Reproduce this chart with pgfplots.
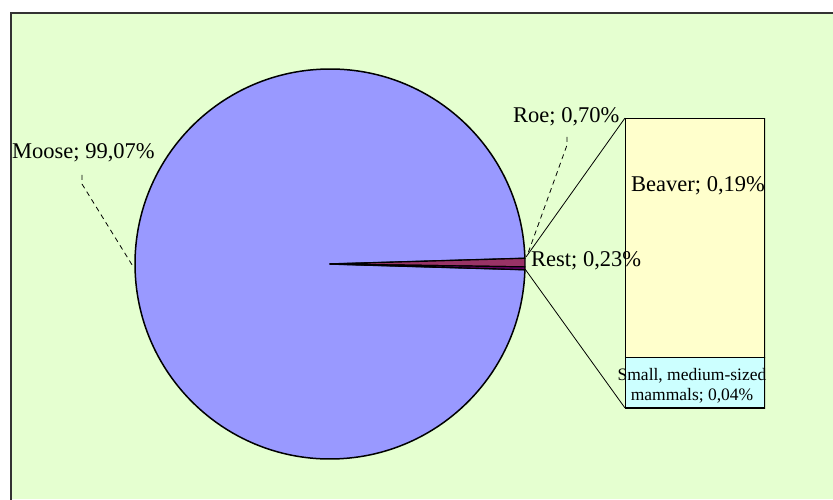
\documentclass[border=0pt]{standalone}
\usepackage{pgfplots}
\pgfplotsset{compat=1.18}
\usepackage{fontspec}
\setmainfont{Liberation Serif}
\definecolor{bg}{RGB}{229,255,208}
\definecolor{moose}{RGB}{153,153,255}
\definecolor{roe}{RGB}{153,51,102}
\definecolor{rest}{RGB}{102,0,102}
\definecolor{beaver}{RGB}{255,255,204}
\definecolor{small}{RGB}{204,255,255}
\definecolor{frame}{RGB}{51,51,51}

% shares in percent
\def\pMoose{99.07}
\def\pRoe{0.70}
\def\pRest{0.23}
\def\pBeaver{0.19}
\def\pSmall{0.04}

\begin{document}
\begin{tikzpicture}[x=1pt,y=1pt]
\useasboundingbox (0,0) rectangle (833,499);
\fill[bg] (11,0) rectangle (833,486);
\draw[frame,line width=2pt] (11,-5) -- (11,486) -- (840,486);

\pgfmathsetmacro\sA{-0.5*(\pRest+\pRoe)*3.6}
\pgfmathsetmacro\sB{\sA+\pRest*3.6}
\pgfmathsetmacro\sC{\sB+\pRoe*3.6}
\pgfmathsetmacro\sE{\sA+360}

% bar of the "Rest" slice
\begin{axis}[at={(625pt,91pt)},anchor=south west,scale only axis,
  width=140pt,height=290pt,xmin=-0.5,xmax=0.5,ymin=0,ymax=\pRest,
  hide axis,ybar stacked,bar width=140pt]
\addplot[fill=small,draw=black,line width=1.5pt] coordinates {(0,\pSmall)};
\addplot[fill=beaver,draw=black,line width=1.5pt] coordinates {(0,\pBeaver)};
\end{axis}

% pie
\begin{axis}[at={(0pt,0pt)},anchor=south west,scale only axis,
  width=833pt,height=499pt,xmin=0,xmax=833,ymin=0,ymax=499,
  hide axis,clip=false]
\filldraw[fill=moose,line width=1.5pt,line join=round] (axis cs:330,235) -- ++(\sC:195pt)
  arc[start angle=\sC,end angle=\sE,radius=195pt] -- cycle;
\filldraw[fill=roe,line width=1.2pt,line join=round] (axis cs:330,235) -- ++(\sB:195pt)
  arc[start angle=\sB,end angle=\sC,radius=195pt] -- cycle;
\filldraw[fill=rest,line width=1.2pt,line join=round] (axis cs:330,235) -- ++(\sA:195pt)
  arc[start angle=\sA,end angle=\sB,radius=195pt] -- cycle;

% connectors to the bar
\draw[line width=0.8pt] (axis cs:526,242) -- (axis cs:625,381);
\draw[line width=0.8pt] (axis cs:525,230) -- (axis cs:625,91);

% leader lines
\draw[line width=0.8pt,dash pattern=on 5pt off 4pt] (axis cs:82,324) -- (axis cs:82,315) -- (axis cs:134,231);
\draw[line width=0.8pt,dash pattern=on 5pt off 4pt] (axis cs:567,362) -- (axis cs:567,354) -- (axis cs:527,243);

% labels
\node[anchor=base west,inner sep=0pt,font=\fontsize{22.5}{26}\selectfont] at (axis cs:12,340) {Moose; 99,07\%};
\node[anchor=base west,inner sep=0pt,font=\fontsize{22.5}{26}\selectfont] at (axis cs:513,376) {Roe; 0,70\%};
\node[anchor=base west,inner sep=0pt,font=\fontsize{22.5}{26}\selectfont] at (axis cs:531,232) {Rest; 0,23\%};
\node[anchor=base west,inner sep=0pt,font=\fontsize{22.5}{26}\selectfont] at (axis cs:631,307) {Beaver; 0,19\%};
\node[anchor=base,inner sep=0pt,font=\fontsize{17.5}{20}\selectfont] at (axis cs:692,119) {Small, medium-sized};
\node[anchor=base,inner sep=0pt,font=\fontsize{17.5}{20}\selectfont] at (axis cs:692,99) {mammals; 0,04\%};
\end{axis}
\end{tikzpicture}
\end{document}
